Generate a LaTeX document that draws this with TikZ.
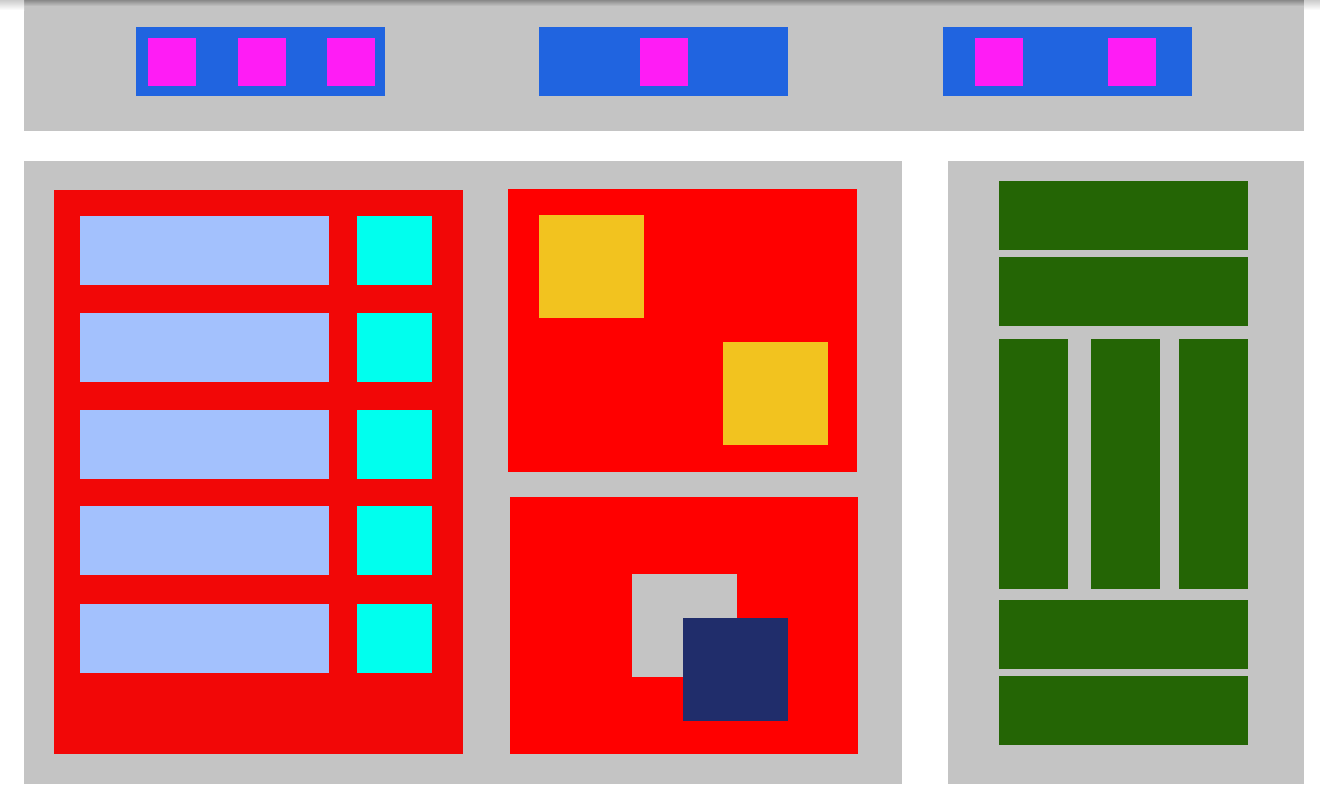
\documentclass[tikz,border=0pt]{standalone}
\usepackage{tikz}

\definecolor{panelgrey}{HTML}{C4C4C4}
\definecolor{barblue}{HTML}{2064E0}
\definecolor{pink}{HTML}{FF1CF5}
\definecolor{listred}{HTML}{F20707}
\definecolor{boxred}{HTML}{FF0000}
\definecolor{rowblue}{HTML}{A3C1FD}
\definecolor{aqua}{HTML}{00FFEE}
\definecolor{mustard}{HTML}{F2C31F}
\definecolor{navy}{HTML}{202D6B}
\definecolor{leaf}{HTML}{246505}

\begin{document}
\begin{tikzpicture}[x=0.02cm, y=-0.02cm,
    panel/.style={fill=panelgrey},
    tile/.style={fill=#1}]
        \useasboundingbox (0, 0) rectangle (1320, 801);
        \fill[white] (0, 0) rectangle (1320, 801);

        % Top bar with three blue strips
        \fill[panel] (24, 0) rectangle (1304, 131);
        \shade[top color=panelgrey!70!black, bottom color=panelgrey] (24, 0) rectangle (1304, 6);
        \shade[top color=white!80!black, bottom color=white] (0, 0) rectangle (24, 10);
        \shade[top color=white!80!black, bottom color=white] (1304, 0) rectangle (1320, 10);
        \fill[tile=barblue] (136, 27) rectangle (385, 96);
        \fill[tile=barblue] (539, 27) rectangle (788, 96);
        \fill[tile=barblue] (943, 27) rectangle (1192, 96);
        \foreach \x in {148, 238, 327, 640, 975, 1108}
            \fill[tile=pink] (\x, 38) rectangle ++(48, 48);

        % Main panel
        \fill[panel] (24, 161) rectangle (902, 784);

        % Left list: rows and squares
        \fill[tile=listred] (54, 190) rectangle (463, 754);
        \foreach \y in {216, 313, 410, 506, 604} {
            \fill[tile=rowblue] (80, \y) rectangle ++(249, 69);
            \fill[tile=aqua] (357, \y) rectangle ++(75, 69);
        }

        % Upper right box
        \fill[tile=boxred] (508, 189) rectangle (857, 472);
        \fill[tile=mustard] (539, 215) rectangle (644, 318);
        \fill[tile=mustard] (723, 342) rectangle (828, 445);

        % Lower right box
        \fill[tile=boxred] (510, 497) rectangle (858, 754);
        \fill[panel] (632, 574) rectangle (737, 677);
        \fill[tile=navy] (683, 618) rectangle (788, 721);

        % Side panel: green blocks
        \fill[panel] (948, 161) rectangle (1304, 784);
        \fill[tile=leaf] (999, 181) rectangle (1248, 250);
        \fill[tile=leaf] (999, 257) rectangle (1248, 326);
        \foreach \x in {999, 1091, 1179}
            \fill[tile=leaf] (\x, 339) rectangle ++(69, 250);
        \fill[tile=leaf] (999, 600) rectangle (1248, 669);
        \fill[tile=leaf] (999, 676) rectangle (1248, 745);
    \end{tikzpicture}
\end{document}
